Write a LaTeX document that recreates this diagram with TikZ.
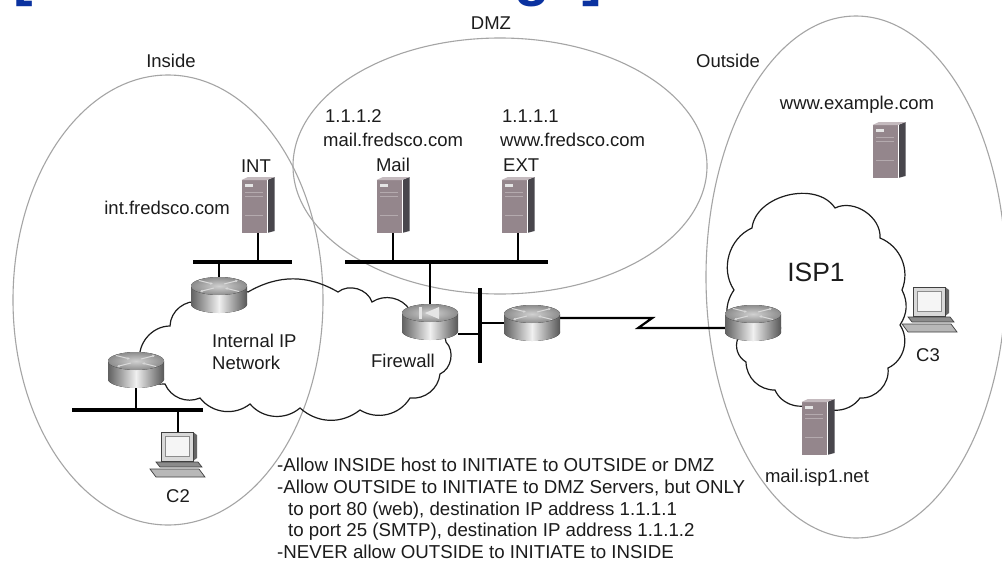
\documentclass[tikz,border=0pt]{standalone}
\usepackage{fontspec}
\setmainfont{Liberation Sans}
\usetikzlibrary{arrows.meta}

\definecolor{zonegray}{RGB}{165,165,165}
\definecolor{inkgray}{RGB}{28,28,28}
\definecolor{srvfront}{RGB}{148,134,140}
\definecolor{srvside}{RGB}{72,70,76}
\definecolor{srvtop}{RGB}{196,186,190}
\definecolor{headblue}{RGB}{10,50,160}

% metal cylinder shared by both router icons
\newcommand{\routerbody}{%
  \fill[left color=black!62, right color=black!66, middle color=black!6] (0,9) ellipse [x radius=28pt, y radius=9pt];
  \fill[left color=black!62, right color=black!66, middle color=black!6] (-28,-9) rectangle (28,9);
  \fill[inner color=black!18, outer color=black!45] (0,-9) ellipse [x radius=28pt, y radius=9pt];
}

\tikzset{
  zone/.style={draw=zonegray, line width=1.1pt},
  puff/.style={draw=inkgray, line width=1.2pt},
  lan/.style={line width=3.2pt},
  drop/.style={line width=2.3pt},
  serial/.style={line width=2.2pt},
  rtr/.style={inner sep=0pt, minimum width=56pt, minimum height=36pt},
  srv/.style={inner sep=0pt, minimum width=33pt, minimum height=56pt},
  pcbox/.style={inner sep=0pt, minimum width=56pt, minimum height=46pt},
  lbl/.style={inner sep=0pt, text=inkgray, font=\fontsize{18.5}{22}\selectfont},
  router/.pic={\routerbody
    \begin{scope}[white!85!black, line width=1pt, -{Latex[length=2.6pt,width=2.8pt]}]
      \draw (-20,-14.5) -- (-6,-11);
      \draw (20,-3.5) -- (6,-7);
      \draw (5,-11) -- (19,-14.5);
      \draw (-5,-7) -- (-19,-3.5);
    \end{scope}},
  firewall/.pic={\routerbody
    \fill[white!90!black] (-11,-15) rectangle (-8,-3);
    \fill[white!90!black] (-5,-9) -- (9,-15) -- (9,-3) -- cycle;},
  server/.pic={
    \fill[srvside] (9,-25) -- (16.5,-28) -- (16.5,26) -- (9,28) -- cycle;
    \fill[srvfront] (-16.5,-25) rectangle (9,28);
    \fill[srvtop] (-16.5,-25) -- (-10,-28) -- (16.5,-28) -- (9,-25) -- cycle;
    \draw[white, line width=0.6pt] (9,-25) -- (9,28);
    \fill[black!10] (-13,-21) rectangle (-5,-18);
    \draw[white, opacity=0.3, line width=0.5pt] (-13,-13) -- (5,-13) (-13,-9) -- (5,-9) (-13,10) -- (5,10);},
  computer/.pic={
    \fill[black!60] (15,-23) -- (19,-20) -- (19,3) -- (15,6) -- cycle;
    \filldraw[fill=black!15, draw=black!75, line width=0.7pt] (-17,-23) rectangle (15,6);
    \filldraw[fill=black!4, draw=black!45, line width=0.6pt] (-13,-19) rectangle (11,1);
    \filldraw[fill=black!45, draw=black!75, line width=0.7pt] (-22,7) -- (20,7) -- (24,12) -- (-18,12) -- cycle;
    \filldraw[fill=black!28, draw=black!75, line width=0.7pt] (-28,14) -- (21,14) -- (27,22) -- (-22,22) -- cycle;},
}

\begin{document}
\begin{tikzpicture}[x=1pt, y=-1pt]
\useasboundingbox (0,0) rectangle (1002,565);
\clip (0,0) rectangle (1002,565);
\fill[white] (0,0) rectangle (1002,565);

\def\insidezone{(168,300) ellipse [x radius=155pt, y radius=225pt]}
\def\dmzzone{(500,166) ellipse [x radius=207pt, y radius=128pt]}
\def\outsidezone{(856,277) ellipse [x radius=150pt, y radius=261pt]}

% heading, cut off by the top edge
\node[anchor=base west, inner sep=0pt, text=headblue, font=\bfseries\fontsize{58.7}{60}\selectfont] (heading) at (13,-5.3) {[View full size image]};

\draw[zone] \insidezone;
\draw[zone] \dmzzone;
\draw[zone] \outsidezone;

% devices
\node[rtr] (r1) at (219,295) {};
\node[rtr] (r2) at (136,370) {};
\node[rtr] (fw) at (430,322) {};
\node[rtr] (r4) at (532,323) {};
\node[rtr] (r5) at (753,323) {};
\node[srv] (intsrv) at (258,205) {};
\node[srv] (mailsrv) at (393,205) {};
\node[srv] (extsrv) at (518,205) {};
\node[srv] (wwwsrv) at (889,150) {};
\node[srv] (ispmail) at (818,427) {};
\node[pcbox] (c2) at (178,455) {};
\node[pcbox] (c3) at (930,310) {};

% clouds
\draw[puff] (140,362) to[bend left=50] (170,326) to[bend left=50] (200,302)
  to[bend left=35] (248,292) to[bend left=30] (338,292) to[bend left=55] (372,302)
  to[bend left=45] (410,310) to[bend left=40] (446,342) to[bend left=55] (440,374)
  to[bend left=45] (410,398) to[bend left=45] (360,410) to[bend left=40] (300,408)
  to[bend left=45] (250,404) to[bend left=45] (200,398) to[bend left=45] (165,384)
  to[bend left=50] (140,362);
\draw[puff] (738,338) to[bend left=40] (734,290) to[bend left=50] (752,228)
  to[bend left=70] (835,208) to[bend left=60] (880,238) to[bend left=45] (902,290)
  to[bend left=30] (900,325) to[bend left=50] (888,368) to[bend left=50] (860,398)
  to[bend left=50] (815,402) to[bend left=50] (775,390) to[bend left=45] (746,362)
  to[bend left=40] (738,338);

% ethernet segments
\coordinate (intbus-w) at (193,262);
\coordinate (intbus-e) at (292,262);
\coordinate (dmzbus-w) at (345,262);
\coordinate (dmzbus-e) at (548,262);
\coordinate (edge-n) at (480,288);
\coordinate (edge-s) at (480,363);
\coordinate (c2bus-w) at (72,410);
\coordinate (c2bus-e) at (203,410);

\draw[lan] (intbus-w) -- (intbus-e);
\draw[drop] (intsrv.south) -- (intsrv.south |- intbus-w);
\draw[drop] (r1.north) -- (r1.north |- intbus-w);

\draw[lan] (dmzbus-w) -- (dmzbus-e);
\draw[drop] (mailsrv.south) -- (mailsrv.south |- dmzbus-w);
\draw[drop] (extsrv.south) -- (extsrv.south |- dmzbus-w);
\draw[drop] (fw.north) -- (fw.north |- dmzbus-w);

\draw[lan] (edge-n) -- (edge-s);
\draw[drop] (fw.-23) -- (fw.-23 -| edge-n);
\draw[drop] (r4.west) -- (r4.west -| edge-n);
\draw[serial] (r4.10) -- ++(92,0) coordinate (kink) -- ([xshift=-14pt]kink |- r5.-10) -- (r5.-10);

\draw[lan] (c2bus-w) -- (c2bus-e);
\draw[drop] (r2.south) -- (r2.south |- c2bus-w);
\draw[drop] (c2.north) -- (c2.north |- c2bus-w);

% icons
\foreach \r in {r1,r2,r4,r5} \pic at (\r) {router};
\pic at (fw) {firewall};
\foreach \s in {intsrv,mailsrv,extsrv,wwwsrv,ispmail} \pic at (\s) {server};
\foreach \c in {c2,c3} \pic at (\c) {computer};

% labels
\node[lbl, anchor=base] (insidelbl) at (171,67) {Inside};
\node[lbl, anchor=base] (dmzlbl) at (491,29) {DMZ};
\node[lbl, anchor=base] (outsidelbl) at (728,67) {Outside};
\node[lbl, anchor=base] (intlbl) at (256,172) {INT};
\node[lbl, anchor=base east] (intname) at (230,214) {int.fredsco.com};
\node[lbl, anchor=base west] (mailip) at (325,122) {1.1.1.2};
\node[lbl, anchor=base west] (mailname) at (323,146) {mail.fredsco.com};
\node[lbl, anchor=base] (maillbl) at (393,171) {Mail};
\node[lbl, anchor=base west] (extip) at (502,122) {1.1.1.1};
\node[lbl, anchor=base west] (extname) at (500,146) {www.fredsco.com};
\node[lbl, anchor=base west] (extlbl) at (503,171) {EXT};
\node[lbl, anchor=base] (wwwname) at (857,109) {www.example.com};
\node[lbl, anchor=base, font=\fontsize{26.5}{30}\selectfont] (isplbl) at (816,281) {ISP1};
\node[lbl, anchor=base] (c3lbl) at (928,361) {C3};
\node[lbl, anchor=base] (ispmailname) at (817,482) {mail.isp1.net};
\node[lbl, anchor=base] (c2lbl) at (178,502) {C2};
\node[lbl, anchor=north west, align=left] (cloudlbl) at (212,333.8) {Internal IP\\Network};
\node[lbl, anchor=base] (fwlbl) at (403,367) {Firewall};
\node[lbl, anchor=north west, align=left, font=\fontsize{18.7}{21.8}\selectfont] (rules) at (277,457.8)
  {-Allow INSIDE host to INITIATE to OUTSIDE or DMZ\\
   -Allow OUTSIDE to INITIATE to DMZ Servers, but ONLY\\
   \hspace*{11pt}to port 80 (web), destination IP address 1.1.1.1\\
   \hspace*{11pt}to port 25 (SMTP), destination IP address 1.1.1.2\\
   -NEVER allow OUTSIDE to INITIATE to INSIDE};
\end{tikzpicture}
\end{document}
